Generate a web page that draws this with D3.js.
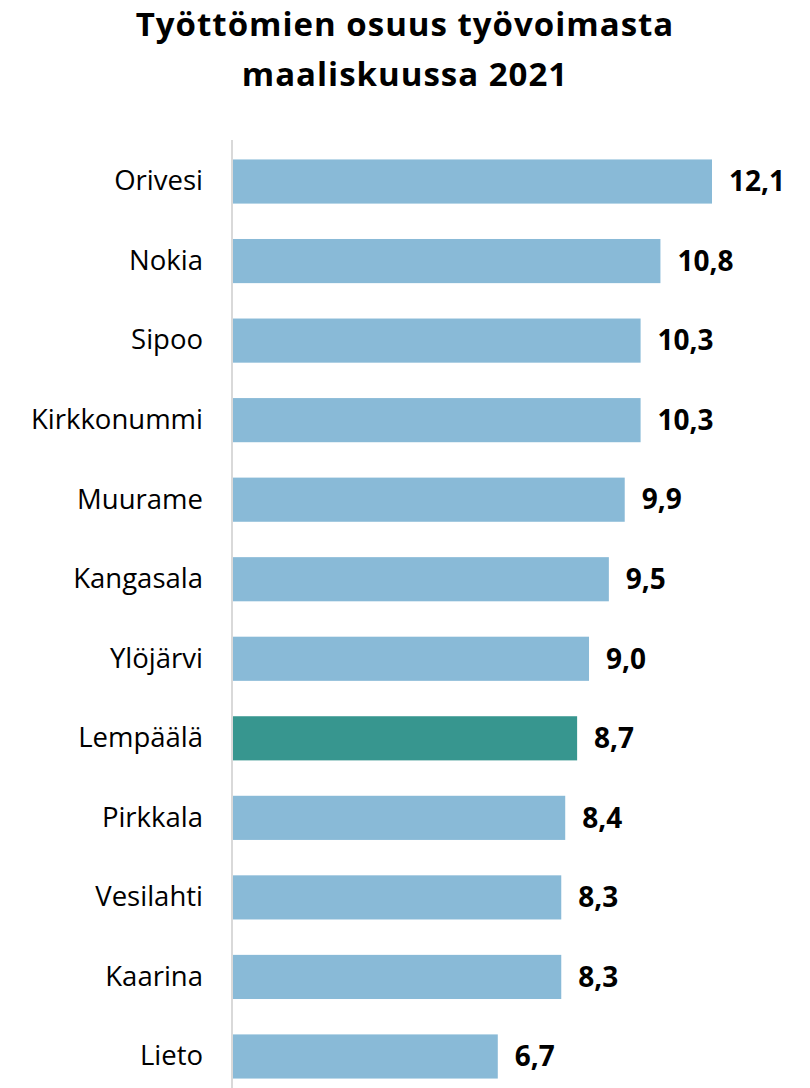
<!DOCTYPE html>
<html>
<head>
<meta charset="utf-8">
<script src="https://cdn.jsdelivr.net/npm/d3@7"></script>
<style>
  html, body { margin: 0; padding: 0; background: #ffffff; }
  svg { display: block; }
</style>
</head>
<body>
<svg id="chart" width="810" height="1088"></svg>
<script>
// Unemployment rate by municipality, March 2021 (%)
const municipalities = ["Orivesi", "Nokia", "Sipoo", "Kirkkonummi", "Muurame", "Kangasala",
  "Ylöjärvi", "Lempäälä", "Pirkkala", "Vesilahti", "Kaarina", "Lieto"];
const rates = [12.1, 10.8, 10.3, 10.3, 9.9, 9.5, 9.0, 8.7, 8.4, 8.3, 8.3, 6.7];
const highlighted = ["Lempäälä"];
const titleLines = ["Työttömien osuus työvoimasta", "maaliskuussa 2021"];

const data = municipalities.map((m, i) => ({ name: m, value: rates[i] }));

const svg = d3.select("#chart");
const W = 810, H = 1088;
const font = "'Open Sans', sans-serif";

const x0 = 232;
const x = d3.scaleLinear().domain([0, 12.1]).range([x0, 712]);
const y = d3.scaleBand().domain(municipalities).range([141.75, 1096.25]).paddingInner(0.445).paddingOuter(0.2225);

// Title
svg.append("g").selectAll("text").data(titleLines).join("text")
  .attr("x", 405)
  .attr("y", (d, i) => 36 + i * 50)
  .attr("text-anchor", "middle")
  .attr("font-family", font)
  .attr("font-weight", 700)
  .attr("font-size", 33)
  .attr("letter-spacing", 1)
  .attr("fill", "#000")
  .text(d => d);

// Bars
svg.append("g").selectAll("rect").data(data).join("rect")
  .attr("x", x(0))
  .attr("y", d => y(d.name))
  .attr("width", d => x(d.value) - x(0))
  .attr("height", y.bandwidth())
  .attr("fill", d => highlighted.includes(d.name) ? "#37968f" : "#89bad7");

// Category axis
const axis = svg.append("g").attr("transform", `translate(${x0},0)`)
  .call(d3.axisLeft(y).tickSize(0).tickPadding(29));
axis.select(".domain").remove();
axis.selectAll("text")
  .attr("font-family", font)
  .attr("font-size", 27.5)
  .attr("fill", "#000");
svg.append("line")
  .attr("x1", x0).attr("x2", x0)
  .attr("y1", 140).attr("y2", H)
  .attr("stroke", "#d9d9d9").attr("stroke-width", 2);

// Value labels
const fmt = v => d3.format(".1f")(v).replace(".", ",");
svg.append("g").selectAll("text").data(data).join("text")
  .attr("x", d => x(d.value) + 17)
  .attr("y", d => y(d.name) + y.bandwidth() / 2)
  .attr("dy", "0.35em")
  .attr("font-family", font)
  .attr("font-weight", 700)
  .attr("font-size", 28)
  .attr("fill", "#000")
  .text(d => fmt(d.value));
</script>
</body>
</html>
